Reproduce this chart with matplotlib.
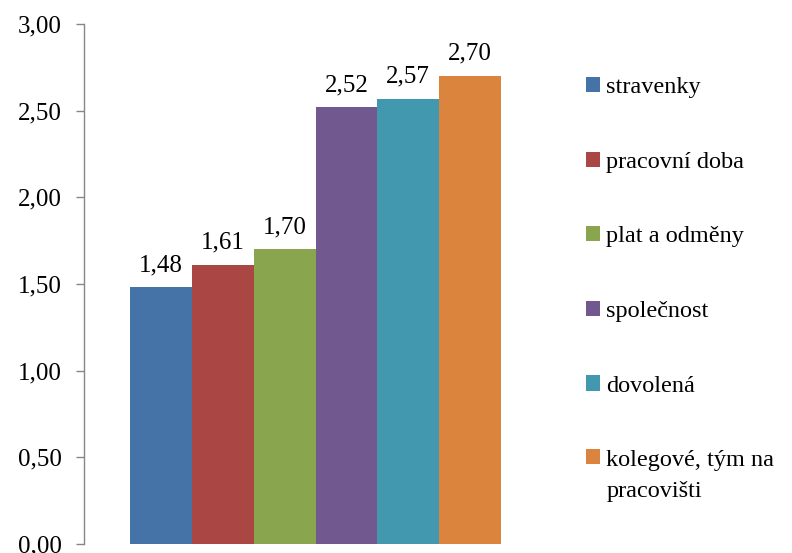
import matplotlib
matplotlib.use("Agg")
import matplotlib.pyplot as plt
from matplotlib.patches import Rectangle
from matplotlib.legend_handler import HandlerPatch

categories = ["stravenky", "pracovní doba", "plat a odměny", "společnost",
              "dovolená", "kolegové, tým na\npracovišti"]
values = [1.48, 1.61, 1.70, 2.52, 2.57, 2.70]
value_labels = ["1,48", "1,61", "1,70", "2,52", "2,57", "2,70"]
yticks = [0.0, 0.5, 1.0, 1.5, 2.0, 2.5, 3.0]
ytick_labels = ["0,00", "0,50", "1,00", "1,50", "2,00", "2,50", "3,00"]
colors = ["#4572A7", "#AA4643", "#89A54E", "#71588F", "#4198AF", "#DB843D"]

plt.rcParams['font.family'] = ['Liberation Serif', 'DejaVu Serif']

fig = plt.figure(figsize=(7.92, 5.53), dpi=100)
ax = fig.add_axes([84/792, 1 - 544/553, (547-84)/792, (544-24)/553])

x = list(range(len(values)))
bars = ax.bar(x, values, width=1.0, color=colors, label=categories, linewidth=0)

for xi, v, lab in zip(x, values, value_labels):
    ax.annotate(lab, (xi, v), xytext=(0, 8), textcoords="offset points",
                ha="center", va="bottom", fontsize=18, color="black")

ax.set_xlim(-1.25, 6.25)
ax.set_ylim(0, 3.0)
ax.set_yticks(yticks)
ax.set_yticklabels(ytick_labels, fontsize=18)
ax.set_xticks([])
for s in ["top", "right", "bottom"]:
    ax.spines[s].set_visible(False)
ax.spines["left"].set_color("#868686")
ax.spines["left"].set_linewidth(1.0)
ax.tick_params(axis="y", direction="out", length=6, width=1.0, color="#868686", pad=10)


def shifted_patch(legend, orig_handle, xdescent, ydescent, width, height, fontsize):
    return Rectangle((-xdescent, -ydescent + 13.5), width, height)

handles = list(bars.patches)
leg = ax.legend(handles, categories, loc="upper left", bbox_to_anchor=(586/792, 1 - 77/553),
                bbox_transform=fig.transFigure, frameon=False, fontsize=17.5,
                handlelength=0.58, handleheight=0.58, handletextpad=0.25,
                labelspacing=2.2, borderpad=0, borderaxespad=0,
                handler_map={handles[-1]: HandlerPatch(patch_func=shifted_patch)})
for t in leg.get_texts():
    t.set_linespacing(1.65)

fig.savefig("out.png", dpi=100)
